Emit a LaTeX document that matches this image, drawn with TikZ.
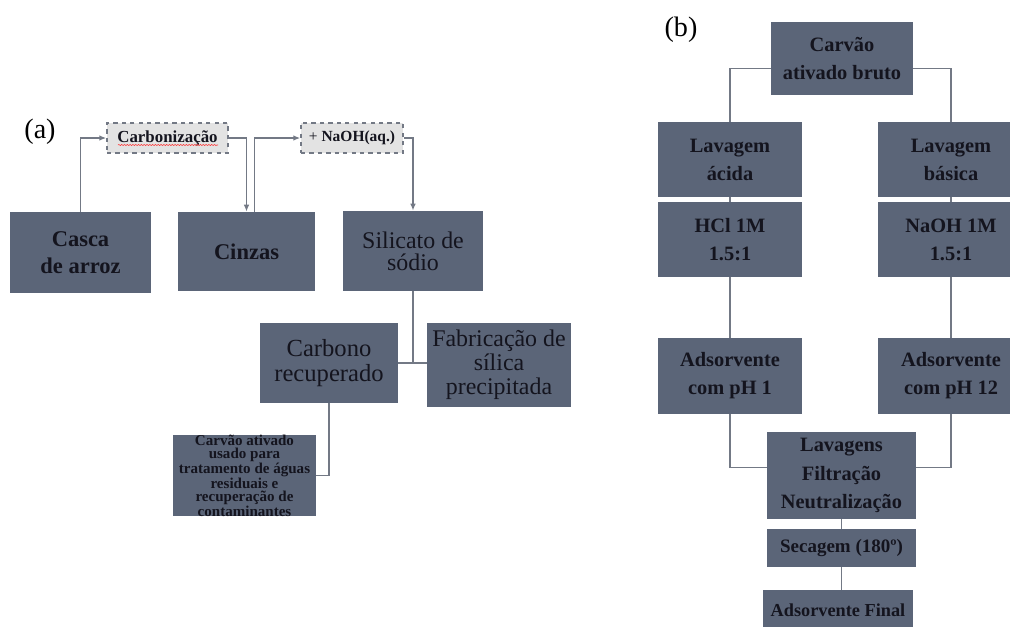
\documentclass[tikz,border=0pt]{standalone}
\usepackage{fontspec}
\setmainfont{Liberation Serif}
\usepackage{tikz}
\usetikzlibrary{arrows.meta, positioning, calc, decorations.pathmorphing}
\usepackage{xcolor}
\definecolor{boxfill}{HTML}{5B6578}
\definecolor{boxtext}{HTML}{14141E}
\definecolor{linegray}{HTML}{737985}
\definecolor{dashfill}{HTML}{E3E3E3}

\begin{document}
\begin{tikzpicture}[x=0.025cm, y=-0.025cm,
    box/.style={fill=boxfill, text=boxtext, inner sep=0pt, align=center},
    bigbox/.style={box, font=\fontsize{16}{19}\selectfont\bfseries},
    thinbox/.style={box, font=\fontsize{17.5}{17.5}\selectfont},
    bbox/.style={box, font=\fontsize{14.5}{20}\selectfont\bfseries},
    dashbox/.style={draw=linegray, dashed, line width=1pt, fill=dashfill, text=boxtext,
        inner sep=0pt, align=center, font=\bfseries},
    conn/.style={draw=linegray, line width=1pt},
    arrow/.style={conn, -{Latex[length=5pt, width=4pt]}},
    lbl/.style={font=\fontsize{20}{22}\selectfont}
]
    \useasboundingbox (0,0) rectangle (1010,626);

    % (a)
    \node[lbl] (la) at (40,132) {(a)};
    \node[bigbox, minimum width=3.525cm, minimum height=2.025cm] (casca) at (80.5,252.5) {Casca\\de arroz};
    \node[bigbox, minimum width=3.425cm, minimum height=1.975cm] (cinzas) at (246.5,251.5) {Cinzas};
    \node[thinbox, minimum width=3.5cm, minimum height=2.0cm, font=\fontsize{17}{15.5}\selectfont] (silicato) at (413,251) {Silicato de\\sódio};
    \node[dashbox, minimum width=3.025cm, minimum height=0.75cm, font=\fontsize{12}{14}\selectfont\bfseries] (carbon) at (167.5,138) {Carbonização};
    \node[dashbox, minimum width=2.55cm, minimum height=0.75cm, font=\fontsize{11}{13}\selectfont] (naoh) at (352,138) {+ \textbf{NaOH(aq.)}};
    \node[thinbox, minimum width=3.45cm, minimum height=2.0cm] (carbono) at (329,363) {Carbono\\recuperado};
    \node[box, minimum width=3.6cm, minimum height=2.1cm, font=\fontsize{17}{17}\selectfont] (fabric) at (499,365) {Fabricação de\\sílica\\precipitada};
    \node[box, minimum width=3.575cm, minimum height=1.975cm, font=\fontsize{10.7}{9.2}\selectfont\bfseries] (carvao) at (244.5,475.5) {Carvão ativado\\usado para\\tratamento de águas\\residuais e\\recuperação de\\contaminantes};

    \draw[red!80, line width=0.4pt, decorate, decoration={snake, amplitude=0.4pt, segment length=2pt}] (118,145) -- (218,145);

    \draw[arrow] (casca.north) |- (carbon.west);
    \draw[arrow] (carbon.east) -| (cinzas.north);
    \draw[arrow] ([xshift=0.2cm]cinzas.north) |- (naoh.west);
    \draw[arrow] (naoh.east) -| (silicato.north);
    \draw[conn] (silicato.south) -- (silicato.south |- carbono.east);
    \draw[conn] (carbono.east) -- (fabric.west |- carbono.east);
    \draw[conn] (carbono.south) |- (carvao.east);

    % (b)
    \node[lbl] (lb) at (681,30) {(b)};
    \node[bbox, minimum width=3.55cm, minimum height=1.825cm] (bruto) at (842,58.5) {Carvão\\ativado bruto};
    \node[bbox, minimum width=3.6cm, minimum height=1.875cm] (acida) at (730,159.5) {Lavagem\\ácida};
    \node[bbox, minimum width=3.6cm, minimum height=1.875cm] (hcl) at (730,239.5) {HCl 1M\\1.5:1};
    \node[bbox, minimum width=3.65cm, minimum height=1.875cm] (basica) at (951,159.5) {Lavagem\\básica};
    \node[bbox, minimum width=3.65cm, minimum height=1.875cm] (naohm) at (951,239.5) {NaOH 1M\\1.5:1};
    \node[bbox, minimum width=3.6cm, minimum height=1.9cm] (ph1) at (730,376) {Adsorvente\\com pH 1};
    \node[bbox, minimum width=3.65cm, minimum height=1.9cm] (ph12) at (951,376) {Adsorvente\\com pH 12};
    \node[bbox, minimum width=3.725cm, minimum height=2.175cm] (lavagens) at (841.5,475.5) {Lavagens\\Filtração\\Neutralização};
    \node[bbox, minimum width=3.725cm, minimum height=0.95cm, font=\fontsize{13.5}{16}\selectfont\bfseries] (secagem) at (841.5,548) {Secagem (180º)};
    \node[bbox, minimum width=3.75cm, minimum height=1.0cm, font=\fontsize{13}{16}\selectfont\bfseries] (final) at (838,610) {Adsorvente Final};

    \draw[conn] ([yshift=-0.25cm]bruto.west) -| (acida.north);
    \draw[conn] ([yshift=-0.25cm]bruto.east) -| (basica.north);
    \draw[conn] (acida.south) -- (hcl.north);
    \draw[conn] (basica.south) -- (naohm.north);
    \draw[conn] (hcl.south) -- (ph1.north);
    \draw[conn] (naohm.south) -- (ph12.north);
    \draw[conn] (ph1.south) |- ([yshift=0.2cm]lavagens.west);
    \draw[conn] (ph12.south) |- ([yshift=0.2cm]lavagens.east);
    \draw[conn] (lavagens.south) -- (secagem.north);
    \draw[conn] (secagem.south) -- (secagem.south |- final.north);
\end{tikzpicture}
\end{document}
